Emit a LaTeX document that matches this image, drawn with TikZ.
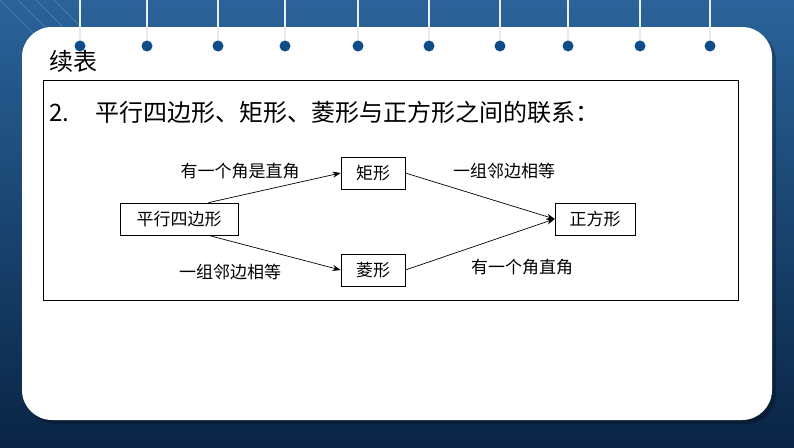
\documentclass[tikz,border=0pt]{standalone}
\usepackage{fontspec}
\setmainfont{Noto Sans CJK SC}
\newfontfamily\cjk{Noto Sans CJK SC}
\usetikzlibrary{arrows.meta}
\definecolor{bgA}{HTML}{1D5A94}
\definecolor{bgB}{HTML}{0A2545}
\definecolor{ring}{HTML}{0F4C8A}
\begin{document}
\begin{tikzpicture}[x=1pt,y=-1pt,
  bx/.style={draw=black,fill=white,line width=0.7pt,minimum height=32pt,inner xsep=4pt,font=\cjk\fontsize{17}{17}\selectfont},
  lbl/.style={font=\cjk\fontsize{17}{17}\selectfont},
  arr/.style={-{Stealth[length=8pt,width=6pt]},line width=0.7pt}]
\useasboundingbox (0,0) rectangle (794,447);
\shade[left color=bgA,right color=bgB,shading angle=0] (0,0) rectangle (794,447);
\shade[top color=bgA!90!white,bottom color=bgB,opacity=0.6] (0,0) rectangle (794,447);
\foreach \i in {0,1,2,3}{\draw[white,opacity=0.2] (\i*18,0) -- (\i*18+60,60);}
\fill[black,opacity=0.25] (26,31) [rounded corners=30pt] rectangle (776,424);
\fill[white,rounded corners=30pt] (22,27) rectangle (772,420);
\foreach \x in {80,147,218,285,358,429,500,568,640,710}{
  \draw[line width=2.5pt,color=white!85!gray] (\x,0) -- (\x,42);
  \fill[ring] (\x,46) circle (5.5pt);}
\node[anchor=west,font=\cjk\fontsize{24}{24}\selectfont] (t) at (46,61) {续表};
\draw[line width=0.8pt] (43,80) rectangle (738,300);
\node[anchor=west,font=\cjk\fontsize{24}{24}\selectfont] (h) at (46,112) {2.\hspace{1.1em}平行四边形、矩形、菱形与正方形之间的联系：};
\node[bx,minimum width=118pt] (p) at (179,219) {平行四边形};
\node[bx,minimum width=64pt] (r) at (373,173) {矩形};
\node[bx,minimum width=64pt] (l) at (373,270) {菱形};
\node[bx,minimum width=80pt] (s) at (595,219) {正方形};
\draw[arr] (p.north east) ++(-30,0) coordinate (a1) -- (r.west);
\draw[arr] (p.south east) ++(-30,0) coordinate (a2) -- (l.west);
\draw[arr] (r.east) -- (s.west);
\draw[arr] (l.east) -- (s.west);
\node[lbl] (t1) at (240,171) {有一个角是直角};
\node[lbl] (t2) at (230,272) {一组邻边相等};
\node[lbl] (t3) at (504,171) {一组邻边相等};
\node[lbl] (t4) at (522,267) {有一个角直角};
\end{tikzpicture}
\end{document}
